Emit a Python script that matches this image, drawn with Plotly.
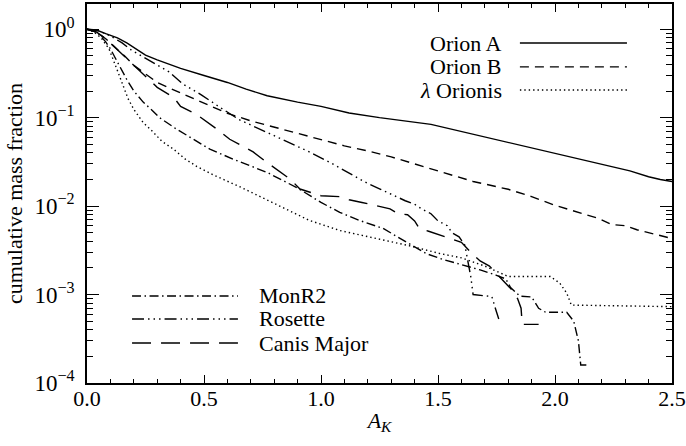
import plotly.graph_objects as go

# Cumulative mass fraction above a given extinction A_K for six molecular clouds
ak_orion_a = [0, 0.04, 0.08, 0.13, 0.17, 0.21, 0.25, 0.30, 0.34, 0.40, 0.50, 0.60, 0.68, 0.77,
              0.90, 1.00, 1.12, 1.25, 1.47, 1.68, 1.89, 2.10, 2.32, 2.40, 2.45, 2.50]
f_orion_a = [1.0, 0.98, 0.89, 0.80, 0.70, 0.60, 0.51, 0.45, 0.41, 0.36, 0.30, 0.25, 0.21, 0.177,
             0.150, 0.134, 0.113, 0.100, 0.084, 0.062, 0.046, 0.034, 0.025, 0.0215, 0.020, 0.019]

ak_orion_b = [0, 0.04, 0.08, 0.12, 0.16, 0.20, 0.25, 0.30, 0.40, 0.50, 0.60, 0.70, 0.80, 0.90,
              1.00, 1.10, 1.20, 1.30, 1.40, 1.50, 1.65, 1.80, 1.90, 2.00, 2.10, 2.19, 2.24,
              2.30, 2.35, 2.44, 2.50]
f_orion_b = [1.0, 0.93, 0.78, 0.63, 0.50, 0.39, 0.31, 0.25, 0.19, 0.145, 0.112, 0.092, 0.078,
             0.066, 0.056, 0.048, 0.042, 0.036, 0.030, 0.025, 0.019, 0.0155, 0.0128, 0.0102,
             0.0085, 0.0072, 0.0062, 0.0060, 0.0054, 0.0047, 0.0043]

ak_lambda_ori = [0, 0.03, 0.06, 0.094, 0.132, 0.154, 0.175, 0.20, 0.24, 0.28, 0.32, 0.37, 0.42,
                 0.47, 0.54, 0.654, 0.75, 0.85, 0.95, 1.08, 1.22, 1.37, 1.51, 1.60, 1.70, 1.80,
                 1.98, 2.02, 2.05, 2.07, 2.50]
f_lambda_ori = [1.0, 0.93, 0.80, 0.60, 0.33, 0.236, 0.165, 0.124, 0.088, 0.070, 0.054, 0.044,
                0.034, 0.028, 0.0225, 0.0165, 0.0125, 0.0092, 0.0069, 0.0053, 0.0044, 0.0036,
                0.0029, 0.0026, 0.0021, 0.0016, 0.0016, 0.00135, 0.00104, 0.00076, 0.00073]

ak_monr2 = [0, 0.03, 0.05, 0.08, 0.10, 0.14, 0.17, 0.20, 0.24, 0.28, 0.31, 0.38, 0.465, 0.525,
            0.624, 0.77, 0.90, 1.00, 1.08, 1.17, 1.265, 1.34, 1.45, 1.52, 1.60, 1.68, 1.75,
            1.79, 1.81, 1.85, 1.90, 1.93, 1.96, 2.05, 2.08, 2.10, 2.11, 2.14]
f_monr2 = [1.0, 0.95, 0.88, 0.72, 0.60, 0.38, 0.27, 0.20, 0.15, 0.12, 0.10, 0.075, 0.055, 0.044,
           0.034, 0.024, 0.016, 0.011, 0.0085, 0.0068, 0.0056, 0.0043, 0.0029, 0.0025, 0.0022,
           0.0019, 0.00165, 0.0015, 0.0012, 0.00096, 0.00094, 0.0007, 0.00063, 0.00063,
           0.00050, 0.00030, 0.00016, 0.00016]

ak_rosette = [0, 0.05, 0.10, 0.15, 0.19, 0.25, 0.30, 0.35, 0.41, 0.49, 0.57, 0.65, 0.77, 0.86,
              0.95, 1.04, 1.09, 1.14, 1.20, 1.25, 1.30, 1.36, 1.40, 1.43, 1.47, 1.50, 1.54,
              1.56, 1.59, 1.615, 1.625, 1.64, 1.65, 1.73, 1.745, 1.765]
f_rosette = [1.0, 0.96, 0.84, 0.70, 0.58, 0.47, 0.40, 0.33, 0.24, 0.18, 0.13, 0.095, 0.068,
             0.053, 0.041, 0.031, 0.026, 0.022, 0.018, 0.0157, 0.0135, 0.0115, 0.0105, 0.0093,
             0.0082, 0.0068, 0.0060, 0.0050, 0.0045, 0.0036, 0.0026, 0.0016, 0.0010, 0.00095,
             0.0007, 0.00048]

ak_canis_major = [0, 0.04, 0.08, 0.12, 0.16, 0.21, 0.25, 0.30, 0.37, 0.40, 0.47, 0.50, 0.556,
                  0.61, 0.71, 0.77, 0.81, 0.87, 0.91, 0.97, 1.00, 1.08, 1.12, 1.175, 1.22,
                  1.295, 1.33, 1.37, 1.40, 1.42, 1.46, 1.51, 1.56, 1.60, 1.64, 1.68, 1.72,
                  1.76, 1.80, 1.82, 1.84, 1.855, 1.86, 1.93]
f_canis_major = [1.0, 0.93, 0.78, 0.62, 0.50, 0.37, 0.30, 0.22, 0.17, 0.134, 0.108, 0.095,
                 0.074, 0.057, 0.041, 0.031, 0.026, 0.020, 0.0156, 0.0137, 0.0131, 0.0128,
                 0.0118, 0.0110, 0.0104, 0.0093, 0.0082, 0.0080, 0.0068, 0.0056, 0.0052,
                 0.0047, 0.0043, 0.0039, 0.0030, 0.0024, 0.0021, 0.0016, 0.00125, 0.0011,
                 0.0009, 0.0007, 0.00046, 0.00046]

x_tick_vals = [0.0, 0.5, 1.0, 1.5, 2.0, 2.5]
y_tick_vals = [1e-4, 1e-3, 1e-2, 1e-1, 1.0]
y_tick_text = ["10<sup>\u22124</sup>", "10<sup>\u22123</sup>", "10<sup>\u22122</sup>",
               "10<sup>\u22121</sup>", "10<sup>0</sup>"]

FONT = "Times New Roman, Times, Tinos, serif"
FS = 22
LW = 1.4

series = [
    ("Orion A", ak_orion_a, f_orion_a, "solid"),
    ("Orion B", ak_orion_b, f_orion_b, "9px,6px"),
    ("<i>\u03bb</i> Orionis", ak_lambda_ori, f_lambda_ori, "1.4px,3px"),
    ("MonR2", ak_monr2, f_monr2, "9px,3.5px,1.5px,3.5px"),
    ("Rosette", ak_rosette, f_rosette, "12px,4px,1.5px,4px,1.5px,4px,1.5px,4px"),
    ("Canis Major", ak_canis_major, f_canis_major, "19px,10px"),
]

fig = go.Figure()
for name, xs, ys, dash in series:
    fig.add_trace(go.Scatter(x=xs, y=ys, mode="lines", name=name, showlegend=False,
                             line=dict(color="black", width=LW, dash=dash)))

# hand-drawn keys: text left of the sample (top right), sample left of the text (bottom left)
top_key = [(0, 0.897), (1, 0.834), (2, 0.773)]
for idx, yp in top_key:
    name, _, _, dash = series[idx]
    fig.add_shape(type="line", xref="paper", yref="paper", x0=0.740, x1=0.923, y0=yp, y1=yp,
                  line=dict(color="black", width=LW, dash=dash))
    fig.add_annotation(text=name, xref="paper", yref="paper", x=0.712, y=yp,
                       xanchor="right", yanchor="middle", showarrow=False,
                       font=dict(family=FONT, size=FS, color="black"))

bottom_key = [(3, 0.2296), (4, 0.169), (5, 0.1055)]
for idx, yp in bottom_key:
    name, _, _, dash = series[idx]
    fig.add_shape(type="line", xref="paper", yref="paper", x0=0.077, x1=0.258, y0=yp, y1=yp,
                  line=dict(color="black", width=LW, dash=dash))
    fig.add_annotation(text=name, xref="paper", yref="paper", x=0.290, y=yp,
                       xanchor="left", yanchor="middle", showarrow=False,
                       font=dict(family=FONT, size=FS, color="black"))

axis_common = dict(showline=True, linecolor="black", linewidth=1.5, mirror="allticks",
                   ticks="inside", tickcolor="black", tickwidth=1.2, showgrid=False,
                   zeroline=False, ticklabeloverflow="allow")

fig.update_xaxes(range=[0, 2.5], tickvals=x_tick_vals, tickformat=".1f", ticklen=8,
                 ticklabelstandoff=-5,
                 tickfont=dict(family=FONT, size=FS, color="black"),
                 minor=dict(dtick=0.1, tick0=0, ticks="inside", ticklen=4, tickcolor="black",
                            tickwidth=1.2),
                 title=dict(text="<i>A<sub>K</sub></i>", font=dict(family=FONT, size=FS,
                                                                   color="black"),
                            standoff=2),
                 **axis_common)

minor_y = [m * 10.0 ** e for e in range(-4, 1) for m in range(2, 10)]
fig.update_yaxes(type="log", range=[-4, 0.285], tickvals=y_tick_vals, ticktext=y_tick_text,
                 ticklen=12, ticklabelstandoff=6,
                 tickfont=dict(family=FONT, size=23, color="black"),
                 minor=dict(tickmode="array", tickvals=minor_y, ticks="inside", ticklen=6,
                            tickcolor="black", tickwidth=1.2),
                 title=dict(text="cumulative mass fraction",
                            font=dict(family=FONT, size=FS, color="black"), standoff=6),
                 **axis_common)

fig.update_layout(width=686, height=446, margin=dict(l=87, r=14, t=4, b=63),
                  paper_bgcolor="white", plot_bgcolor="white", template="none",
                  font=dict(family=FONT, size=FS, color="black"))

fig.write_html("out.html")
